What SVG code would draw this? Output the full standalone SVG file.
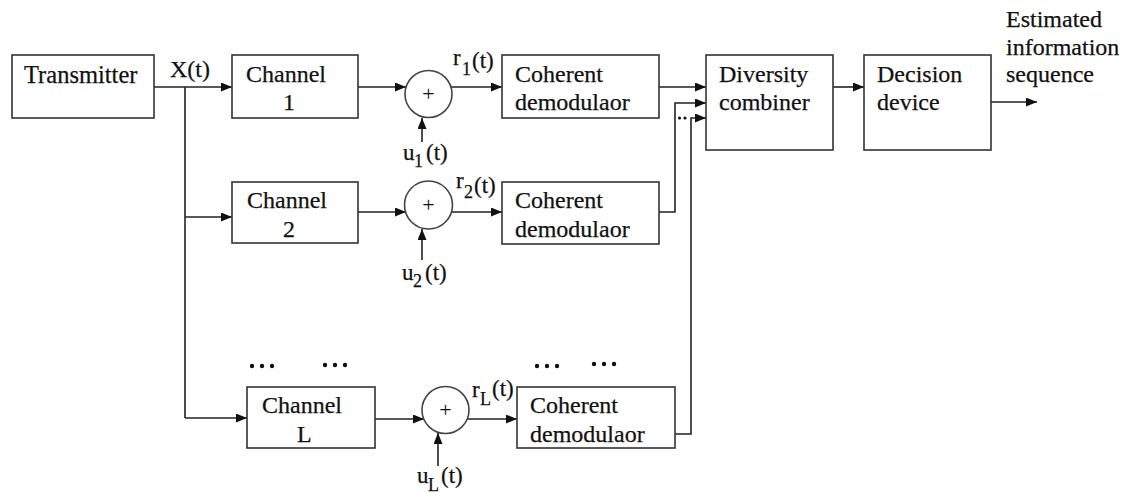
<svg xmlns="http://www.w3.org/2000/svg" width="1124" height="493" viewBox="0 0 1124 493">
  <defs>
    <marker id="arrow" markerUnits="userSpaceOnUse" markerWidth="12" markerHeight="10" refX="11" refY="4.5" orient="auto">
      <path d="M0,0 L11,4.5 L0,9 z" fill="#111"/>
    </marker>
    <style>
      .box { fill: #fff; stroke: #333; stroke-width: 1.6; }
      .sum { fill: #fff; stroke: #444; stroke-width: 1.6; }
      .wire { fill: none; stroke: #222; stroke-width: 1.6; }
      .arr { fill: none; stroke: #222; stroke-width: 1.6; marker-end: url(#arrow); }
      .dot { fill: #111; }
    </style>
  </defs>
  <rect width="1124" height="493" fill="#fff"/>

  <!-- connectors -->
  <g id="connectors">
    <!-- transmitter to channels -->
    <path class="arr" d="M154,87 H232"/>
    <path class="wire" d="M185,87 V418"/>
    <path class="arr" d="M185,217 H232"/>
    <path class="arr" d="M185,418 H247"/>
    <!-- channel to adder -->
    <path class="arr" d="M358,87 H406"/>
    <path class="arr" d="M358,212 H406"/>
    <path class="arr" d="M375,419 H424"/>
    <!-- noise inputs -->
    <path class="arr" d="M422,142 V118"/>
    <path class="arr" d="M422,260 V229"/>
    <path class="arr" d="M438,466 V433"/>
    <!-- adder to demodulator -->
    <path class="arr" d="M451,87 H502"/>
    <path class="arr" d="M451,212 H502"/>
    <path class="arr" d="M467,419 H517"/>
    <!-- demodulators to combiner -->
    <path class="arr" d="M659,87 H706"/>
    <path class="arr" d="M659,212 H675 V103 H706"/>
    <path class="arr" d="M675,434 H691 V118 H706"/>
    <circle class="dot" cx="679.5" cy="118" r="1.6"/>
    <circle class="dot" cx="685" cy="118" r="1.6"/>
    <!-- combiner to decision to output -->
    <path class="arr" d="M833,87 H864"/>
    <path class="arr" d="M991,102 H1037"/>
  </g>

  <g id="transmitter">
    <rect class="box" x="12" y="55" width="142" height="63"/>
    <text style="font-family:'Liberation Serif',serif;font-size:24.5px;fill:#111;stroke:#111;stroke-width:0.25" x="24" y="83">Transmitter</text>
  </g>
  <text id="label-x" style="font-family:'Liberation Serif',serif;font-size:24px;fill:#111;stroke:#111;stroke-width:0.25" x="170" y="77">X(t)</text>

  <g id="channel-1" style="font-family:'Liberation Serif',serif;font-size:24px;fill:#111;stroke:#111;stroke-width:0.25">
    <rect class="box" x="232" y="55" width="126" height="63"/>
    <text style="font-family:'Liberation Serif',serif" x="246" y="82">Channel</text>
    <text style="font-family:'Liberation Serif',serif" x="283" y="110">1</text>
  </g>
  <g id="channel-2" style="font-family:'Liberation Serif',serif;font-size:24px;fill:#111;stroke:#111;stroke-width:0.25">
    <rect class="box" x="232" y="182" width="126" height="61"/>
    <text style="font-family:'Liberation Serif',serif" x="247" y="208">Channel</text>
    <text style="font-family:'Liberation Serif',serif" x="283" y="237">2</text>
  </g>
  <g id="channel-L" style="font-family:'Liberation Serif',serif;font-size:24px;fill:#111;stroke:#111;stroke-width:0.25">
    <rect class="box" x="247" y="387" width="128" height="61"/>
    <text style="font-family:'Liberation Serif',serif" x="262" y="413">Channel</text>
    <text style="font-family:'Liberation Serif',serif" x="297" y="442">L</text>
  </g>

  <g id="adder-1" style="font-family:'Liberation Serif',serif;font-size:22px;fill:#111">
    <circle class="sum" cx="428.5" cy="94" r="23.5"/>
    <text style="font-family:'Liberation Serif',serif" text-anchor="middle" x="428.5" y="101">+</text>
  </g>
  <g id="adder-2" style="font-family:'Liberation Serif',serif;font-size:22px;fill:#111">
    <circle class="sum" cx="428.5" cy="205" r="24"/>
    <text style="font-family:'Liberation Serif',serif" text-anchor="middle" x="428.5" y="212">+</text>
  </g>
  <g id="adder-L" style="font-family:'Liberation Serif',serif;font-size:22px;fill:#111">
    <circle class="sum" cx="445.5" cy="410" r="23.5"/>
    <text style="font-family:'Liberation Serif',serif" text-anchor="middle" x="445.5" y="417">+</text>
  </g>

  <!-- received and noise signal labels -->
  <g id="labels" style="font-family:'Liberation Serif',serif;font-size:23px;fill:#111;stroke:#111;stroke-width:0.25">
    <text style="font-family:'Liberation Serif',serif" x="453" y="65">r</text>
    <text style="font-family:'Liberation Serif',serif;font-size:18px" x="462" y="75">1</text>
    <text style="font-family:'Liberation Serif',serif" x="472" y="68">(t)</text>
    <text style="font-family:'Liberation Serif',serif" x="403" y="160">u</text>
    <text style="font-family:'Liberation Serif',serif;font-size:18px" x="414" y="167">1</text>
    <text style="font-family:'Liberation Serif',serif" x="426" y="160">(t)</text>
    <text style="font-family:'Liberation Serif',serif" x="456" y="188">r</text>
    <text style="font-family:'Liberation Serif',serif;font-size:18px" x="464" y="198">2</text>
    <text style="font-family:'Liberation Serif',serif" x="474" y="193">(t)</text>
    <text style="font-family:'Liberation Serif',serif" x="402" y="280">u</text>
    <text style="font-family:'Liberation Serif',serif;font-size:18px" x="413" y="287">2</text>
    <text style="font-family:'Liberation Serif',serif" x="425" y="280">(t)</text>
    <text style="font-family:'Liberation Serif',serif" x="472" y="397">r</text>
    <text style="font-family:'Liberation Serif',serif;font-size:18px" x="480" y="405">L</text>
    <text style="font-family:'Liberation Serif',serif" x="492" y="396">(t)</text>
    <text style="font-family:'Liberation Serif',serif" x="417" y="483">u</text>
    <text style="font-family:'Liberation Serif',serif;font-size:18px" x="428" y="491">L</text>
    <text style="font-family:'Liberation Serif',serif" x="441" y="483">(t)</text>
  </g>

  <g id="demod-1" style="font-family:'Liberation Serif',serif;font-size:24px;fill:#111;stroke:#111;stroke-width:0.25">
    <rect class="box" x="502" y="55" width="157" height="63"/>
    <text style="font-family:'Liberation Serif',serif" x="515" y="82">Coherent</text>
    <text style="font-family:'Liberation Serif',serif" x="515" y="110">demodulaor</text>
  </g>
  <g id="demod-2" style="font-family:'Liberation Serif',serif;font-size:24px;fill:#111;stroke:#111;stroke-width:0.25">
    <rect class="box" x="502" y="182" width="157" height="62"/>
    <text style="font-family:'Liberation Serif',serif" x="515" y="208">Coherent</text>
    <text style="font-family:'Liberation Serif',serif" x="515" y="237">demodulaor</text>
  </g>
  <g id="demod-L" style="font-family:'Liberation Serif',serif;font-size:24px;fill:#111;stroke:#111;stroke-width:0.25">
    <rect class="box" x="517" y="387" width="158" height="61"/>
    <text style="font-family:'Liberation Serif',serif" x="530" y="413">Coherent</text>
    <text style="font-family:'Liberation Serif',serif" x="530" y="442">demodulaor</text>
  </g>

  <!-- ellipsis marks for the omitted branches -->
  <g id="ellipses">
    <circle class="dot" cx="252" cy="366" r="2.2"/><circle class="dot" cx="262" cy="366" r="2.2"/><circle class="dot" cx="272" cy="366" r="2.2"/>
    <circle class="dot" cx="325" cy="365" r="2.2"/><circle class="dot" cx="335" cy="365" r="2.2"/><circle class="dot" cx="345" cy="365" r="2.2"/>
    <circle class="dot" cx="537" cy="366" r="2.2"/><circle class="dot" cx="547" cy="366" r="2.2"/><circle class="dot" cx="557" cy="366" r="2.2"/>
    <circle class="dot" cx="594" cy="364" r="2.2"/><circle class="dot" cx="604" cy="364" r="2.2"/><circle class="dot" cx="614" cy="364" r="2.2"/>
  </g>

  <g id="combiner" style="font-family:'Liberation Serif',serif;font-size:24px;fill:#111;stroke:#111;stroke-width:0.25">
    <rect class="box" x="706" y="55" width="127" height="95"/>
    <text style="font-family:'Liberation Serif',serif" x="719" y="82">Diversity</text>
    <text style="font-family:'Liberation Serif',serif" x="719" y="110">combiner</text>
  </g>
  <g id="decision" style="font-family:'Liberation Serif',serif;font-size:24px;fill:#111;stroke:#111;stroke-width:0.25">
    <rect class="box" x="864" y="55" width="127" height="95"/>
    <text style="font-family:'Liberation Serif',serif" x="877" y="82">Decision</text>
    <text style="font-family:'Liberation Serif',serif" x="877" y="110">device</text>
  </g>
  <g id="output-label" style="font-family:'Liberation Serif',serif;font-size:24px;fill:#111;stroke:#111;stroke-width:0.25">
    <text style="font-family:'Liberation Serif',serif" x="1006" y="27">Estimated</text>
    <text style="font-family:'Liberation Serif',serif" x="1006" y="55">information</text>
    <text style="font-family:'Liberation Serif',serif" x="1006" y="82">sequence</text>
  </g>
</svg>
